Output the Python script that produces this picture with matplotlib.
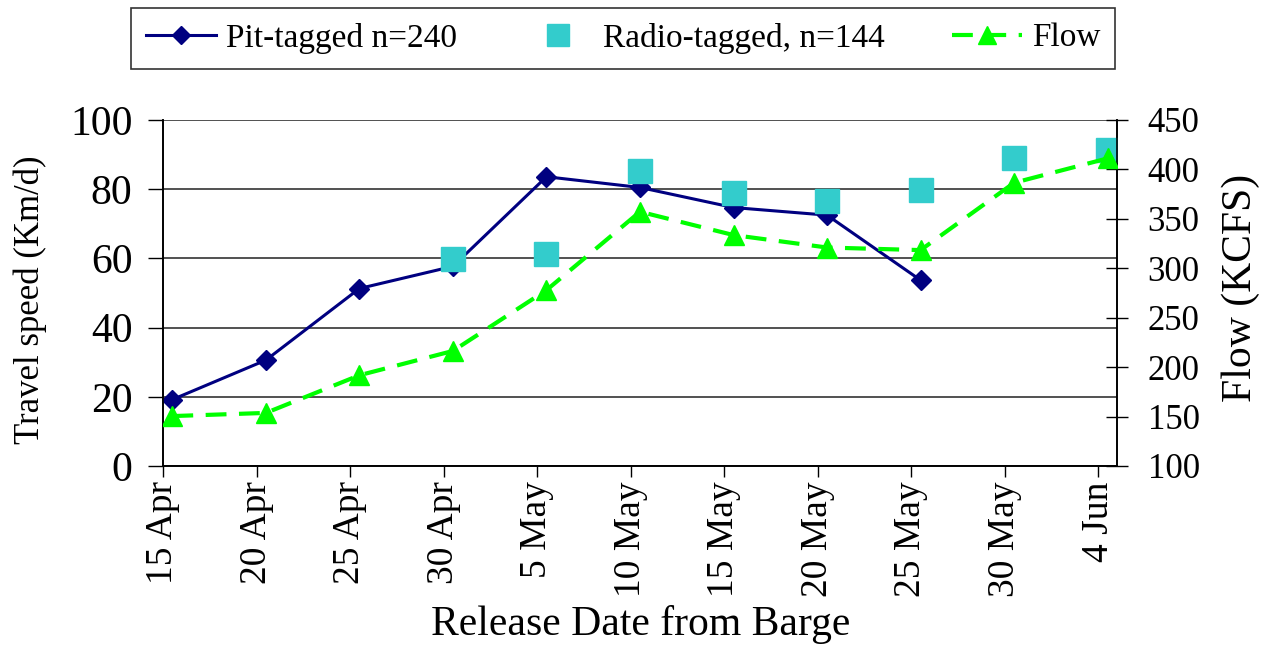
"""Travel speed of tagged fish released from barge, with river flow."""

import matplotlib
matplotlib.use("Agg")
import matplotlib.pyplot as plt
import pandas as pd

plt.rcParams["font.family"] = ["Liberation Serif", "DejaVu Serif"]

# x axis tick labels (release dates)
tick_labels = ["15 Apr", "20 Apr", "25 Apr", "30 Apr", "5 May", "10 May",
               "15 May", "20 May", "25 May", "30 May", "4 Jun"]

# Pit-tagged travel speed (Km/d)
pit_dates = ["15 Apr", "20 Apr", "25 Apr", "30 Apr", "5 May", "10 May",
             "15 May", "20 May", "25 May"]
pit_speed = [19.2, 30.6, 51.3, 57.7, 83.6, 80.5, 74.7, 72.5, 53.7]

# Radio-tagged travel speed (Km/d)
radio_dates = ["30 Apr", "5 May", "10 May", "15 May", "20 May", "25 May",
               "30 May", "4 Jun"]
radio_speed = [59.8, 61.2, 85.2, 78.8, 76.6, 79.7, 89.1, 91.3]

# Flow (KCFS)
flow_dates = tick_labels
flow_kcfs = [150.5, 153.7, 191.8, 216.4, 277.9, 357.2, 333.6, 321.0,
             318.4, 386.5, 411.2]


def to_date(labels):
    """Turn '15 Apr' style strings into timestamps."""
    return pd.to_datetime([s + " 2001" for s in labels], format="%d %b %Y")


half_day = pd.Timedelta(hours=12)  # points sit in the middle of the day

W, H = 1266, 650
fig = plt.figure(figsize=(W / 100, H / 100), dpi=100)
ax = fig.add_axes([163 / W, 184 / H, 954 / W, 346 / H])
ax2 = ax.twinx()

pit_line, = ax.plot(to_date(pit_dates) + half_day, pit_speed, color="#000080",
                    lw=2.2, marker="D", ms=10, label="Pit-tagged n=240", zorder=3)
radio_pts, = ax.plot(to_date(radio_dates) + half_day, radio_speed, ls="none",
                     marker="s", ms=17, color="#33CCCC",
                     label="Radio-tagged, n=144", zorder=4)
flow_line, = ax2.plot(to_date(flow_dates) + half_day, flow_kcfs, color="#00FF00",
                      lw=3, ls=(0, (5, 3)), marker="^", ms=15,
                      label="Flow", zorder=3)

ticks = to_date(tick_labels)
ax.set_xlim(ticks[0], ticks[-1] + pd.Timedelta(days=1))
ax.set_xticks(ticks)
ax.set_xticklabels(tick_labels, rotation=90, fontsize=27)
ax.tick_params(axis="x", direction="out", length=8, width=1, pad=3)

ax.set_ylim(0, 100)
ax.set_yticks(range(0, 101, 20))
ax.tick_params(axis="y", direction="out", length=11, width=1, pad=11,
               labelsize=30)
ax.yaxis.grid(True, color="#333333", lw=1.2)
ax.set_axisbelow(True)

ax2.set_ylim(100, 450)
ax2.set_yticks(range(100, 451, 50))
ax2.tick_params(axis="y", direction="inout", length=16, width=1, pad=14,
                labelsize=25)

for a in (ax, ax2):
    a.spines["top"].set_visible(False)
    for s in ("left", "right", "bottom"):
        a.spines[s].set_color("black")
        a.spines[s].set_linewidth(1.2)

fig.text(30 / W, 1 - 300 / H, "Travel speed (Km/d)", rotation=90,
         ha="center", va="center", fontsize=25)
fig.text(1241 / W, 1 - 288 / H, "Flow (KCFS)", rotation=90,
         ha="center", va="center", fontsize=30)
fig.text(641 / W, 1 - 625 / H, "Release Date from Barge",
         ha="center", va="center", fontsize=30)

leg = fig.legend([pit_line, radio_pts, flow_line],
                 ["Pit-tagged n=240", "Radio-tagged, n=144", "Flow"],
                 loc="center", bbox_to_anchor=(623 / W, 1 - 38 / H), ncol=3,
                 fontsize=24, frameon=True, fancybox=False, edgecolor="black",
                 handlelength=2.1, handletextpad=0.3, columnspacing=2.0,
                 borderpad=0.45, borderaxespad=0, markerscale=0.9)
leg.get_frame().set_linewidth(1.2)

fig.savefig("out.png", dpi=100)
